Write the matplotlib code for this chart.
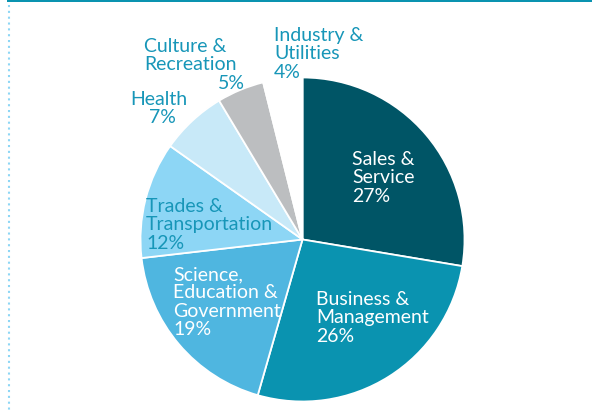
import matplotlib
matplotlib.use("Agg")
import matplotlib.pyplot as plt
from matplotlib.patches import Rectangle

# Occupation groups, clockwise from 12 o'clock
groups = ["Sales &\nService", "Business &\nManagement",
          "Science,\nEducation &\nGovernment", "Trades &\nTransportation",
          "Health", "Culture &\nRecreation", "Industry &\nUtilities"]
# wedge sizes; printed labels as shown
shares = [27.6, 26.8, 18.7, 11.6, 6.6, 4.7, 3.9]
pct_labels = ["27%", "26%", "19%", "12%", "7%", "5%", "4%"]
colors = ["#005566", "#0a93b0", "#4fb6e0", "#8dd6f5", "#c8e9f8", "#bcbec0", "#ffffff"]

LABEL_TEAL = "#1796b8"

fig = plt.figure(figsize=(5.92, 4.14), dpi=100)
ax = fig.add_axes([0, 0, 1, 1])
W, H = 592, 414

# pie drawn in pixel space (y axis pointing down -> angles run clockwise)
ax.pie(shares, colors=colors, startangle=-90, counterclock=True,
       center=(302.5, 240.5), radius=162,
       explode=[0.02, 0, 0, 0, 0, 0, 0],
       wedgeprops=dict(edgecolor="white", linewidth=1.3))
ax.set_xlim(0, W)
ax.set_ylim(H, 0)
ax.set_aspect("equal")
ax.axis("off")

# top rule and dotted left rule
ax.add_patch(Rectangle((7, 0), W - 7, 3.2, color="#0a93b0", lw=0))
ax.plot([8.7, 8.7], [6, H], color="#8dd6f5", lw=1.5, linestyle=(0, (1, 1.8)),
        solid_capstyle="butt", dash_capstyle="butt")

# label layout: (first-line x, first baseline y, colour, x of the % line)
layout = [
    (352, 165, "white", None),
    (316, 305, "white", None),
    (173, 280, "white", None),
    (146, 212, LABEL_TEAL, None),
    (130, 105, LABEL_TEAL, 149),
    (144, 52, LABEL_TEAL, 218),
    (274, 41, LABEL_TEAL, None),
]
step = 18.4
for name, pct, (x, y, col, px) in zip(groups, pct_labels, layout):
    lines = name.split("\n") + [pct]
    for k, line in enumerate(lines):
        lx = px if (px is not None and k == len(lines) - 1) else x
        ax.text(lx, y + k * step, line, color=col, fontsize=14,
                family=["Lato", "DejaVu Sans"], ha="left", va="baseline")

fig.savefig("out.png", dpi=100)
